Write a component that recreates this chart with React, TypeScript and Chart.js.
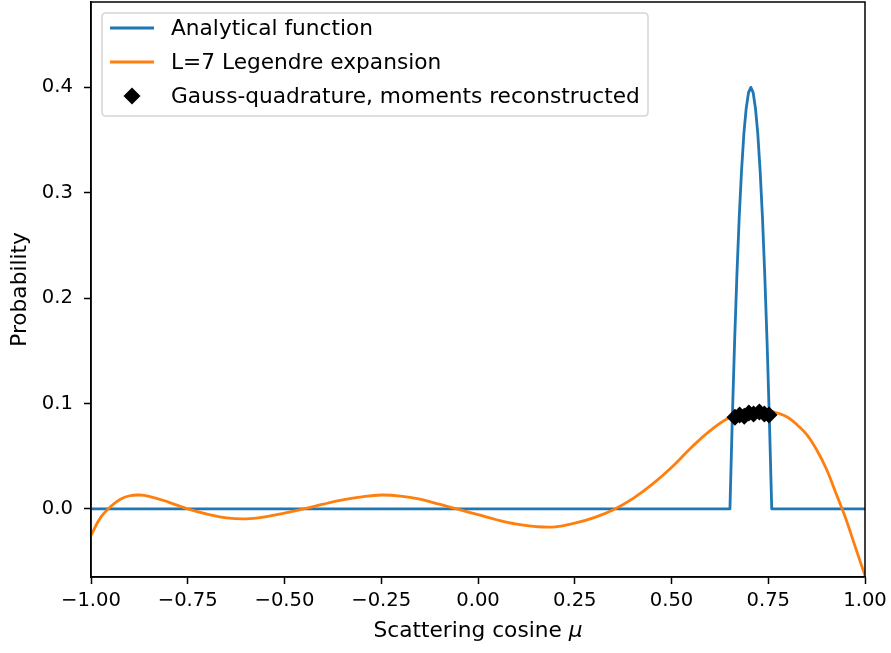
import React, { useEffect, useRef } from "react";
import { Chart, registerables } from "chart.js";

Chart.register(...registerables);

// ---- data ----
const seriesLabels = [
  "Analytical function",
  "L=7 Legendre expansion",
  "Gauss-quadrature, moments reconstructed",
];
const xTitleMain = "Scattering cosine ";
const xTitleSymbol = "\u03bc";
const yTitle = "Probability";

const analyticX = [-1.0, 0.651, 0.657, 0.663, 0.669, 0.675, 0.681, 0.687, 0.693, 0.699, 0.705, 0.711, 0.717, 0.723, 0.729, 0.735, 0.741, 0.747, 0.753, 0.759, 1.0];
const analyticY = [0.0, 0.0, 0.084, 0.158, 0.222, 0.277, 0.321, 0.356, 0.38, 0.395, 0.4, 0.395, 0.38, 0.356, 0.321, 0.277, 0.222, 0.158, 0.084, 0.0, 0.0];

const legendreX = [-1.0, -0.975, -0.95, -0.925, -0.9, -0.875, -0.85, -0.8, -0.75, -0.7, -0.65, -0.6, -0.55, -0.5, -0.45, -0.4, -0.35, -0.3, -0.25, -0.2, -0.15, -0.1, -0.05, 0.0, 0.05, 0.1, 0.15, 0.2, 0.25, 0.3, 0.35, 0.4, 0.45, 0.5, 0.55, 0.6, 0.65, 0.7, 0.725, 0.75, 0.775, 0.8, 0.825, 0.85, 0.875, 0.9, 0.925, 0.95, 0.975, 1.0];
const legendreY = [-0.025, -0.008, 0.002, 0.009, 0.0125, 0.0132, 0.012, 0.0065, 0.0, -0.005, -0.0085, -0.0094, -0.0075, -0.004, 0.0, 0.0045, 0.0085, 0.0115, 0.0132, 0.0122, 0.0092, 0.0045, -0.0005, -0.0055, -0.0105, -0.0145, -0.0168, -0.017, -0.0135, -0.0082, -0.0007, 0.0098, 0.0233, 0.0393, 0.0578, 0.0743, 0.0868, 0.0928, 0.0941, 0.0933, 0.0908, 0.087, 0.0796, 0.0703, 0.0562, 0.0381, 0.0149, -0.0089, -0.0362, -0.0633];

const gaussX = [0.664, 0.676, 0.688, 0.7, 0.712, 0.727, 0.74, 0.752];
const gaussY = [0.087, 0.089, 0.088, 0.091, 0.09, 0.092, 0.09, 0.089];

const xTicks = [-1.0, -0.75, -0.5, -0.25, 0.0, 0.25, 0.5, 0.75, 1.0];
const yTicks = [0.0, 0.1, 0.2, 0.3, 0.4];

const BLUE = "#1f77b4";
const ORANGE = "#ff7f0e";
const FONT = "DejaVu Sans";
const FS_TICK = 19.6;
const FS_TEXT = 21.7;
const LW = 2.8;

const toPts = (xs: number[], ys: number[]) => xs.map((x, i) => ({ x, y: ys[i] }));

const framePlugin = {
  id: "frame",
  afterDatasetsDraw(chart: any) {
    const { ctx, chartArea: a } = chart;
    ctx.save();
    ctx.strokeStyle = "#000";
    ctx.lineWidth = 1.5;
    ctx.strokeRect(a.left, a.top, a.right - a.left, a.bottom - a.top);
    ctx.restore();
  },
};

const xTitlePlugin = {
  id: "xTitle",
  afterDraw(chart: any) {
    const { ctx, chartArea: a } = chart;
    ctx.save();
    ctx.fillStyle = "#000";
    ctx.textBaseline = "alphabetic";
    ctx.textAlign = "left";
    const fMain = `${FS_TEXT}px "${FONT}"`;
    const fSym = `oblique ${FS_TEXT}px "${FONT}"`;
    ctx.font = fMain;
    const w1 = ctx.measureText(xTitleMain).width;
    ctx.font = fSym;
    const w2 = ctx.measureText(xTitleSymbol).width;
    const cx = (a.left + a.right) / 2;
    const x0 = cx - (w1 + w2) / 2;
    const y = 637;
    ctx.font = fMain;
    ctx.fillText(xTitleMain, x0, y);
    ctx.font = fSym;
    ctx.fillText(xTitleSymbol, x0 + w1, y);
    ctx.restore();
  },
};

const legendPlugin = {
  id: "mplLegend",
  afterDraw(chart: any) {
    const { ctx } = chart;
    const x0 = 102, y0 = 13, w = 546, h = 103, r = 4;
    ctx.save();
    ctx.beginPath();
    ctx.moveTo(x0 + r, y0);
    ctx.lineTo(x0 + w - r, y0);
    ctx.quadraticCurveTo(x0 + w, y0, x0 + w, y0 + r);
    ctx.lineTo(x0 + w, y0 + h - r);
    ctx.quadraticCurveTo(x0 + w, y0 + h, x0 + w - r, y0 + h);
    ctx.lineTo(x0 + r, y0 + h);
    ctx.quadraticCurveTo(x0, y0 + h, x0, y0 + h - r);
    ctx.lineTo(x0, y0 + r);
    ctx.quadraticCurveTo(x0, y0, x0 + r, y0);
    ctx.closePath();
    ctx.fillStyle = "rgba(255,255,255,0.8)";
    ctx.fill();
    ctx.strokeStyle = "#d5d5d5";
    ctx.lineWidth = 1.5;
    ctx.stroke();

    const rows = [28, 62, 96];
    ctx.lineWidth = LW;
    ctx.strokeStyle = BLUE;
    ctx.beginPath();
    ctx.moveTo(110, rows[0]);
    ctx.lineTo(154, rows[0]);
    ctx.stroke();
    ctx.strokeStyle = ORANGE;
    ctx.beginPath();
    ctx.moveTo(110, rows[1]);
    ctx.lineTo(154, rows[1]);
    ctx.stroke();
    ctx.fillStyle = "#000";
    ctx.beginPath();
    const cx = 132, cy = rows[2], d = 8.5;
    ctx.moveTo(cx - d, cy);
    ctx.lineTo(cx, cy - d);
    ctx.lineTo(cx + d, cy);
    ctx.lineTo(cx, cy + d);
    ctx.closePath();
    ctx.fill();

    ctx.font = `${FS_TEXT}px "${FONT}"`;
    ctx.textBaseline = "middle";
    ctx.textAlign = "left";
    ctx.fillStyle = "#000";
    seriesLabels.forEach((t, i) => ctx.fillText(t, 171, rows[i] + 1));
    ctx.restore();
  },
};

const noPad = () => ({ left: 0, top: 0, right: 0, bottom: 0 });

export default function App() {
  const ref = useRef<HTMLCanvasElement>(null);
  useEffect(() => {
    document.body.style.margin = "0";
    const canvas = ref.current!;
    Chart.defaults.font.family = FONT;
    Chart.defaults.color = "#000";
    const chart = new Chart(canvas, {
      type: "scatter",
      data: {
        datasets: [
          {
            label: seriesLabels[0],
            data: toPts(analyticX, analyticY),
            showLine: true,
            borderColor: BLUE,
            backgroundColor: BLUE,
            borderWidth: LW,
            pointRadius: 0,
            tension: 0,
            borderJoinStyle: "round",
            order: 3,
          },
          {
            label: seriesLabels[1],
            data: toPts(legendreX, legendreY),
            showLine: true,
            borderColor: ORANGE,
            backgroundColor: ORANGE,
            borderWidth: LW,
            pointRadius: 0,
            tension: 0.4,
            order: 2,
          },
          {
            label: seriesLabels[2],
            data: toPts(gaussX, gaussY),
            showLine: false,
            pointStyle: "rectRot",
            pointRadius: 8.5,
            pointBackgroundColor: "#000",
            pointBorderColor: "#000",
            pointBorderWidth: 0,
            order: 1,
          },
        ],
      } as any,
      options: {
        responsive: false,
        devicePixelRatio: 1,
        animation: false,
        layout: { autoPadding: false, padding: { left: 0, top: 2, right: 26, bottom: 0 } },
        plugins: {
          legend: { display: false },
          tooltip: { enabled: false },
        },
        scales: {
          x: {
            type: "linear",
            min: -1,
            max: 1,
            afterBuildTicks: (s: any) => {
              s.ticks = xTicks.map((v) => ({ value: v }));
            },
            afterFit: (s: any) => {
              s.height = 76;
              s.paddingLeft = 0;
              s.paddingRight = 0;
              s.paddingTop = 0;
              s.paddingBottom = 0;
              s.getPadding = noPad;
            },
            ticks: {
              font: { size: FS_TICK },
              color: "#000",
              padding: 5,
              maxRotation: 0,
              autoSkip: false,
              callback: (v: any) => Number(v).toFixed(2).replace("-", "\u2212"),
            },
            grid: { display: true, drawOnChartArea: false, drawTicks: true, tickLength: 7, tickColor: "#000", tickWidth: 1.5 },
            border: { display: true, color: "#000", width: 1.5 },
            title: { display: false },
          },
          y: {
            type: "linear",
            min: -0.0646,
            max: 0.481,
            afterBuildTicks: (s: any) => {
              s.ticks = yTicks.map((v) => ({ value: v }));
            },
            afterFit: (s: any) => {
              s.width = 91;
              s.paddingTop = 0;
              s.paddingBottom = 0;
              s.paddingLeft = 0;
              s.paddingRight = 0;
              s.getPadding = noPad;
            },
            ticks: {
              font: { size: FS_TICK },
              color: "#000",
              padding: 11,
              autoSkip: false,
              callback: (v: any) => Number(v).toFixed(1),
            },
            grid: { display: true, drawOnChartArea: false, drawTicks: true, tickLength: 7, tickColor: "#000", tickWidth: 1.5 },
            border: { display: true, color: "#000", width: 1.5 },
            title: { display: true, text: yTitle, font: { size: FS_TEXT }, color: "#000", padding: { top: 7, bottom: 0 } },
          },
        },
      } as any,
      plugins: [framePlugin, legendPlugin, xTitlePlugin],
    });
    return () => chart.destroy();
  }, []);
  return (
    <div style={{ width: 891, height: 653 }}>
      <canvas ref={ref} width={891} height={653} style={{ display: "block", width: "891px", height: "653px" }} />
    </div>
  );
}
